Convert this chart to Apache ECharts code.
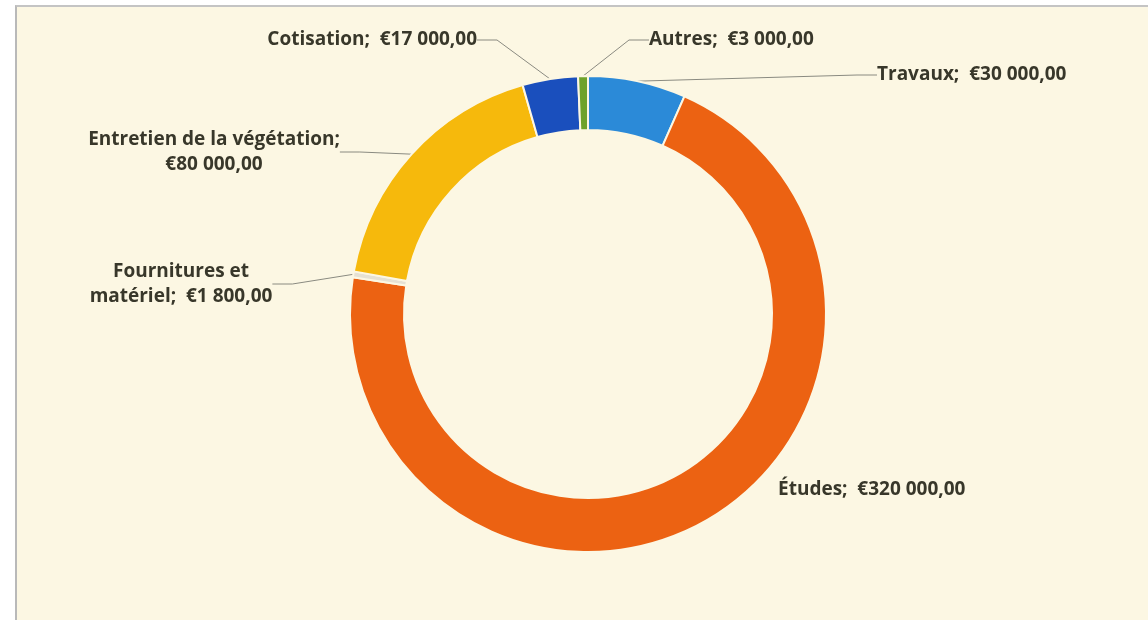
<!DOCTYPE html>
<html><head><meta charset="utf-8">
<script src="https://cdn.jsdelivr.net/npm/echarts@6/dist/echarts.min.js"></script>
<style>
html,body{margin:0;padding:0;background:#ffffff;}
#frame{position:absolute;left:15px;top:5px;width:1140px;height:620px;border-left:2px solid #b9b9b9;border-top:2px solid #c4c4c4;background:#fcf7e3;box-sizing:border-box;}
#chart{position:absolute;left:0;top:0;width:1148px;height:620px;}
</style></head>
<body>
<div id="frame"></div>
<div id="chart"></div>
<script>
const categories = ['Travaux', 'Études', 'Fournitures et matériel', 'Entretien de la végétation', 'Cotisation', 'Autres'];
const values = [30000, 320000, 1800, 80000, 17000, 3000];
const labelNames = ['Travaux;', 'Études;', 'Fournitures et\nmatériel;', 'Entretien de la végétation;\n', 'Cotisation;', 'Autres;'];
const colors = ['#2b8ad8', '#ec6212', '#e6e1d3', '#f6b90c', '#1a4fbd', '#6ea22a'];
const showLine = [true, false, true, true, true, true];
// label anchor positions (layout only)
const labelPos = [
  {x: 877, y: 75, align: 'left'},
  {x: 778, y: 490, align: 'left'},
  {x: 181, y: 284, align: 'center'},
  {x: 214, y: 152, align: 'center'},
  {x: 477, y: 40, align: 'right'},
  {x: 649, y: 40, align: 'left'}
];

function euro(v){
  const s = String(Math.round(v)).replace(/\B(?=(\d{3})+(?!\d))/g, ' ');
  return '€' + s + ',00';
}

const chart = echarts.init(document.getElementById('chart'), null, {renderer: 'canvas'});
chart.setOption({
  backgroundColor: 'transparent',
  animation: false,
  series: [{
    type: 'pie',
    center: [588, 314],
    radius: [184, 238],
    startAngle: 90,
    clockwise: true,
    avoidLabelOverlap: false,
    itemStyle: {borderColor: '#fcf7e3', borderWidth: 2},
    label: {
      show: true,
      position: 'outside',
      fontFamily: 'Open Sans',
      fontWeight: 'bold',
      fontSize: 19,
      lineHeight: 25,
      color: '#38372a',
      formatter: p => {
        const n = labelNames[p.dataIndex];
        if (n.endsWith('\n')) return n + euro(p.value);
        return n + '  ' + euro(p.value);
      }
    },
    labelLine: {show: true, length: 20, length2: 20, lineStyle: {color: '#8a8a80', width: 1}},
    labelLayout: p => {
      const lp = labelPos[p.dataIndex];
      return {x: lp.x, y: lp.y, align: lp.align, verticalAlign: 'middle', moveOverlap: false};
    },
    data: categories.map((c, i) => ({
      name: c, value: values[i],
      itemStyle: {color: colors[i]},
      labelLine: {show: showLine[i]}
    }))
  }]
});
</script>
</body></html>
